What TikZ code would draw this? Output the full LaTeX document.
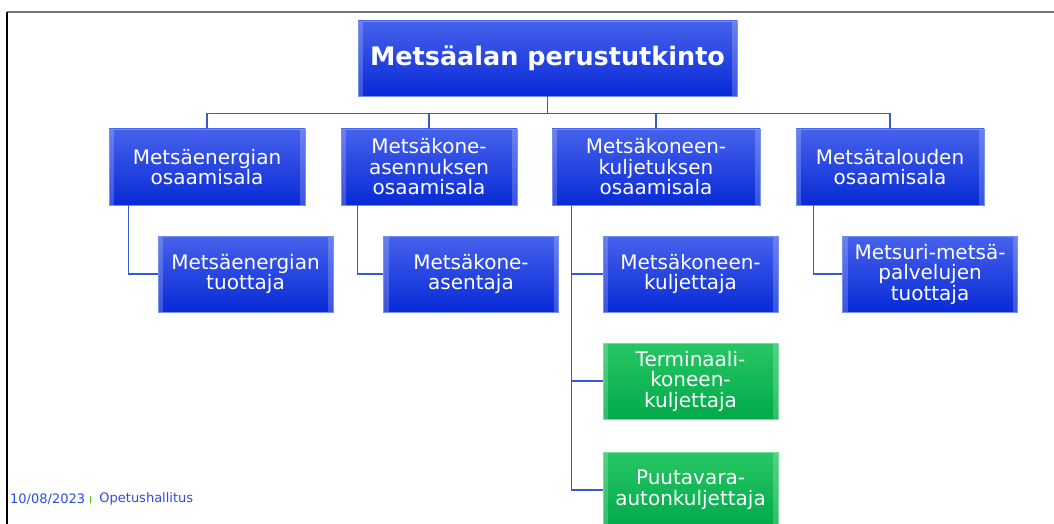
\documentclass[tikz,border=0pt]{standalone}
\usepackage{fontspec}
\setmainfont{DejaVu Sans}
\usetikzlibrary{positioning}
\definecolor{boxtop}{RGB}{70,98,236}
\definecolor{boxbot}{RGB}{8,42,214}
\definecolor{boxedge}{RGB}{115,145,242}
\definecolor{grntop}{RGB}{40,198,100}
\definecolor{grnbot}{RGB}{0,170,74}
\definecolor{grnedge}{RGB}{120,222,150}
\definecolor{linkblue}{RGB}{55,90,205}
\definecolor{footblue}{RGB}{45,75,228}
\definecolor{footgreen}{RGB}{100,190,40}

\begin{document}
\begin{tikzpicture}[x=1pt, y=-1pt,
  bx/.style={shade, top color=boxtop, bottom color=boxbot, draw=boxedge,
             line width=.8pt, text=white, align=center, inner sep=0pt,
             minimum height=76pt, font=\fontsize{20}{20.5}\selectfont,
             path picture={
               \fill[white, opacity=.2] (path picture bounding box.north west)
                 rectangle ([xshift=5pt]path picture bounding box.south west);
               \fill[white, opacity=.2] ([xshift=-5pt]path picture bounding box.north east)
                 rectangle (path picture bounding box.south east);}},
  gbx/.style={bx, top color=grntop, bottom color=grnbot, draw=grnedge},
  link/.style={draw=linkblue, line width=1.3pt},
  foot/.style={anchor=west, inner sep=0pt, text=footblue, font=\fontsize{13}{13}\selectfont},
]
\useasboundingbox (0,0) rectangle (1054,524);
\clip (0,0) rectangle (1054,524);

% ---------------- frame ----------------
\draw[black!55, line width=1.5pt] (7,12) -- (1054,12);
\draw[black, line width=1.2pt] (7,12) -- (7,524);

% ---------------- root ----------------
\node[bx, minimum width=379pt, minimum height=75pt,
      font=\bfseries\fontsize{25.5}{26}\selectfont] (root) at (547.5,58.5)
  {Metsäalan perustutkinto};

% ---------------- osaamisalat ----------------
\node[bx, minimum width=196pt] (eA) at (207,167) {Metsäenergian\\osaamisala};
\node[bx, minimum width=176pt] (eB) at (429,167) {Metsäkone-\\asennuksen\\osaamisala};
\node[bx, minimum width=208pt] (eC) at (656,167) {Metsäkoneen-\\kuljetuksen\\osaamisala};
\node[bx, minimum width=188pt] (eD) at (890,167) {Metsätalouden\\osaamisala};

% ---------------- tutkintonimikkeet ----------------
\node[bx, minimum width=175pt]  (tA)  at (245.5,274) {Metsäenergian\\tuottaja};
\node[bx, minimum width=175pt]  (tB)  at (471,274)   {Metsäkone-\\asentaja};
\node[bx, minimum width=175pt]  (tC1) at (690.5,274) {Metsäkoneen-\\kuljettaja};
\node[gbx, minimum width=175pt] (tC2) at (690.5,381) {Terminaali-\\koneen-\\kuljettaja};
\node[gbx, minimum width=175pt] (tC3) at (690.5,490) {Puutavara-\\autonkuljettaja};
\node[bx, minimum width=175pt]  (tD)  at (930,274)   {Metsuri-metsä-\\palvelujen\\tuottaja};

% ---------------- connectors ----------------
\coordinate (bus) at ([yshift=-17pt]root.south);
\draw[link] (root.south) -- (bus);
\foreach \n in {eA,eB,eC,eD}
  \draw[link] (bus) -| (\n.north);

\draw[link] ([xshift=20pt]eA.south west) |- (tA.west);
\draw[link] ([xshift=17pt]eB.south west) |- (tB.west);
\foreach \n in {tC1,tC2,tC3}
  \draw[link] ([xshift=20pt]eC.south west) |- (\n.west);
\draw[link] ([xshift=18pt]eD.south west) |- (tD.west);

% ---------------- footer ----------------
\node[foot] (date) at (10,499) {10/08/2023};
\node[fill=footgreen, inner sep=0pt, minimum width=1.5pt, minimum height=7pt,
      right=4pt of date] (sep) {};
\node[foot, right=8pt of sep.east] (org) {Opetushallitus};

\end{tikzpicture}
\end{document}
